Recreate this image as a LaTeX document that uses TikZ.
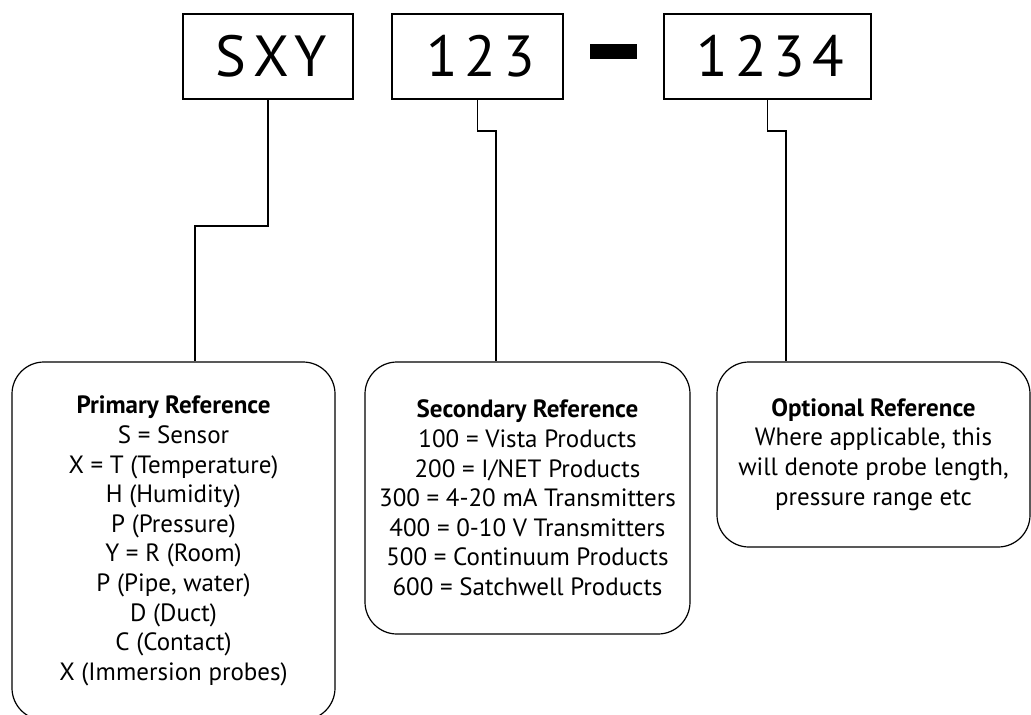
\documentclass[tikz,border=0pt]{standalone}
\usepackage{fontspec}
\setmainfont{PT Sans}
\usepackage{tikz}
\newcommand{\codebox}[4][]{\node[codebox,#1] at (#2) (#3) {#4\kern-6pt}}
\newcommand{\refbox}[4][]{\node[refbox,#1] at (#2) (#3) {#4}}

\begin{document}
\begin{tikzpicture}[x=1pt,y=-1pt,
    codebox/.style={draw,line width=2pt,inner sep=0pt,minimum height=85pt,
      font=\fontsize{58}{60}\selectfont\addfontfeature{LetterSpace=12}},
    refbox/.style={draw,line width=1.2pt,rounded corners=32pt,inner sep=0pt,
      align=center,font=\fontsize{25}{29.6}\selectfont},
    link/.style={line width=1.2pt}]
  \clip (0,0) rectangle (1031,715);
  \codebox[minimum width=170pt]{268,56.5}{sxy}{SXY};
  \codebox[minimum width=171pt]{477.5,56.5}{num}{123};
  \codebox[minimum width=207pt]{767.5,56.5}{opt}{1234};
  \node[fill,inner sep=0pt,minimum width=47pt,minimum height=15pt] at (613.5,51.5) (dash) {};
  \refbox[minimum width=323pt,minimum height=358pt]{173.5,541}{prim}{%
    \textbf{Primary Reference}\\ S = Sensor\\ X = T (Temperature)\\ H (Humidity)\\
    P (Pressure)\\ Y = R (Room)\\ P (Pipe, water)\\ D (Duct)\\ C (Contact)\\
    X (Immersion probes)};
  \refbox[minimum width=325pt,minimum height=272pt]{527.5,498}{sec}{%
    \textbf{Secondary Reference}\\ 100 = Vista Products\\ 200 = I/NET Products\\
    300 = 4-20 mA Transmitters\\ 400 = 0-10 V Transmitters\\
    500 = Continuum Products\\ 600 = Satchwell Products};
  \refbox[minimum width=313pt,minimum height=185pt]{873.5,454.5}{optref}{%
    \textbf{Optional Reference}\\ Where applicable, this\\
    will denote probe length,\\ pressure range etc};
  \coordinate (k1) at (195,226);
  \coordinate (k2) at (496,131);
  \coordinate (k3) at (786,131);
  \draw[link] (sxy.south) |- (k1) -- (k1 |- prim.north);
  \draw[link] (num.south) |- (k2) -- (k2 |- sec.north);
  \draw[link] (opt.south) |- (k3) -- (k3 |- optref.north);
\end{tikzpicture}
\end{document}
